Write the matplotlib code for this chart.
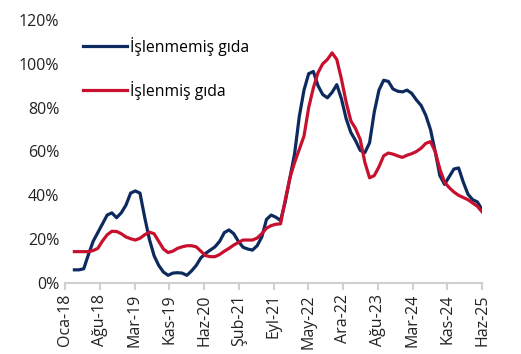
import numpy as np
import matplotlib
matplotlib.use("Agg")
import matplotlib.pyplot as plt

## monthly series, Mar-2018 .. Haz-2025 (month index 2..89, 0 = Oca-18)
start_month = 2
islenmemis = [6, 6, 6.5, 13, 19, 23, 27, 31, 32, 29.8,
              32, 35.5, 41, 42, 41, 30, 20, 12.5, 8, 5,
              3.5, 4.5, 4.7, 4.5, 3.5, 5.5, 8, 11.5, 13.5, 15,
              16.5, 19, 23, 24.2, 22.5, 19, 16.3, 15.5, 15, 17,
              21, 29, 31, 30, 28.5, 37, 48, 59, 76, 88,
              95.5, 96.5, 90, 86, 84.5, 87, 90.5, 84, 75, 68.7,
              65, 60.5, 59.5, 64, 78, 88, 92.5, 92, 88.5, 87.5,
              87.2, 88, 86.5, 83.5, 81, 76.5, 70, 60, 49, 45,
              48.5, 52, 52.5, 46, 40.5, 38, 37, 33.5]
islenmis = [14.3, 14.3, 14.3, 14.3, 14.8, 15.8, 19.2, 22, 23.6, 23.5,
            22.5, 21, 20.2, 19.6, 20.4, 22, 23.2, 22.5, 19, 15.5,
            13.9, 14.5, 15.8, 16.5, 17, 17, 16.5, 14.5, 12.5, 12,
            12, 13, 14.5, 15.8, 17.3, 18.5, 19.6, 19.6, 19.6, 20.5,
            22.5, 25, 26.2, 26.8, 27, 38, 48, 55, 61, 67,
            80, 89, 96, 100, 102, 105, 102, 93, 82.5, 74,
            70.5, 65.5, 55, 48, 49, 53, 58, 59.3, 58.8, 58,
            57.3, 58.3, 59, 60, 61.5, 63.7, 64.5, 60, 52, 46,
            43.5, 41.5, 40, 39, 38, 36.5, 35, 32.5]

tick_labels = ["Oca-18", "Ağu-18", "Mar-19", "Kas-19", "Haz-20", "Şub-21", "Eyl-21",
               "May-22", "Ara-22", "Ağu-23", "Mar-24", "Kas-24", "Haz-25"]

x = np.arange(start_month, start_month + len(islenmemis))

plt.rcParams['font.family'] = ['Open Sans', 'DejaVu Sans']
fig = plt.figure(figsize=(5.21, 3.54), dpi=100)
ax = fig.add_axes([0.1248, 0.2006, 0.8004, 0.7429])

ax.plot(x, islenmemis, color="#0d2a5e", lw=2.3, label="İşlenmemiş gıda", solid_joinstyle='round')
ax.plot(x, islenmis, color="#c8102e", lw=2.3, label="İşlenmiş gıda", solid_joinstyle='round')

ax.set_xlim(0, 89)
ax.set_ylim(0, 120)
ax.set_yticks(np.arange(0, 121, 20))
ax.set_yticklabels([f"{v}%" for v in range(0, 121, 20)], fontsize=11.5, color="#222222")
ax.set_xticks(np.linspace(0, 89, len(tick_labels)))
ax.set_xticklabels(tick_labels, rotation=90, fontsize=11.5, color="#222222")

for s in ["top", "right", "left"]:
    ax.spines[s].set_visible(False)
ax.spines["bottom"].set_color("#d0d0d0")
ax.spines["bottom"].set_linewidth(1.5)
ax.tick_params(axis="y", length=0, pad=4)
ax.tick_params(axis="x", direction="out", length=5, width=1.5, color="#d0d0d0", pad=3)

ax.legend(loc="upper left", bbox_to_anchor=(0.01, 0.99), frameon=False, fontsize=11.3,
          handlelength=2.8, handletextpad=0.2, labelspacing=1.6)

fig.savefig("out.png", dpi=100)
